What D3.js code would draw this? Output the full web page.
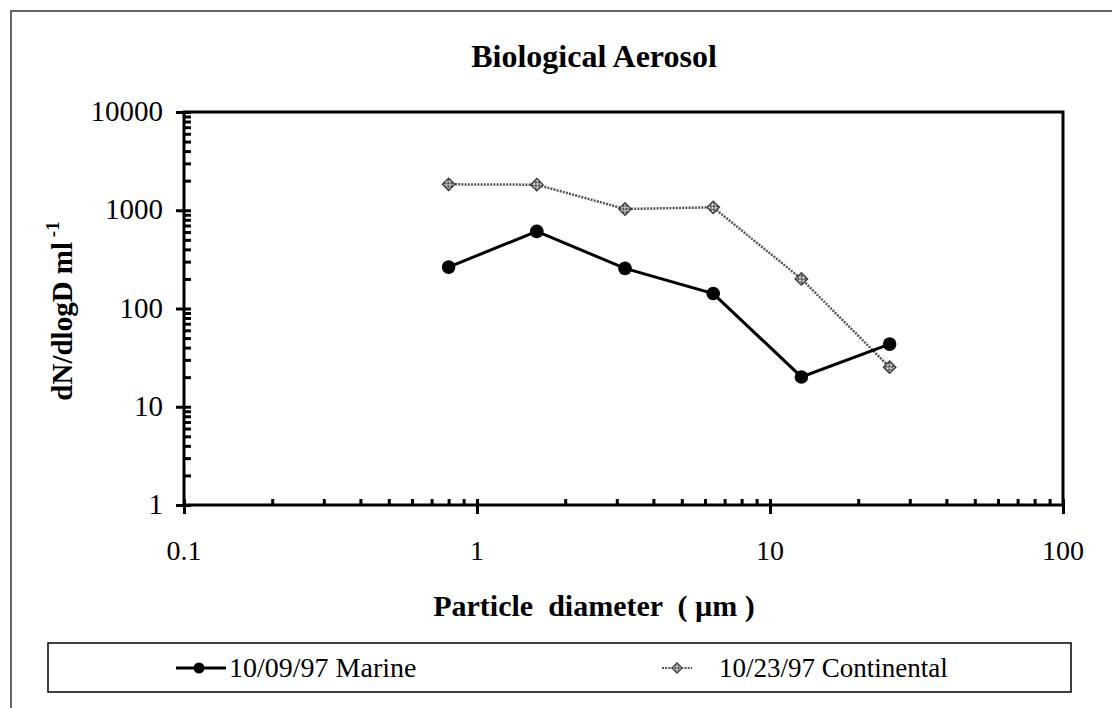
<!DOCTYPE html>
<html>
<head>
<meta charset="utf-8">
<script src="https://cdn.jsdelivr.net/npm/d3@7"></script>
<style>
  html, body { margin: 0; padding: 0; background: #fff; }
  svg { display: block; }
  text { font-family: "Liberation Serif", "Times New Roman", serif; fill: #000; }
</style>
</head>
<body>
<svg id="chart" width="1112" height="708"></svg>
<script>
// ---- data ----
const diameters = [0.8, 1.6, 3.2, 6.4, 12.8, 25.6];
const marine = [264, 610, 256, 142, 20.1, 43.4];
const continental = [1836, 1820, 1030, 1071, 200, 25.3];
const seriesNames = ["10/09/97 Marine", "10/23/97 Continental"];
const xTickLabels = ["0.1", "1", "10", "100"];
const yTickLabels = ["1", "10", "100", "1000", "10000"];
const titleText = "Biological Aerosol";
const xTitle = "Particle  diameter  ( \u00b5m )";
const yTitle = "dN/dlogD ml";

const svg = d3.select("#chart");
svg.append("rect").attr("width", 1112).attr("height", 708).attr("fill", "#fff");

// checker pattern for continental markers
const defs = svg.append("defs");
const pat = defs.append("pattern").attr("id", "checker").attr("width", 2).attr("height", 2)
  .attr("patternUnits", "userSpaceOnUse");
pat.append("rect").attr("width", 2).attr("height", 2).attr("fill", "#fff");
pat.append("rect").attr("width", 1).attr("height", 1).attr("fill", "#222");
pat.append("rect").attr("x", 1).attr("y", 1).attr("width", 1).attr("height", 1).attr("fill", "#222");

// outer frame (top + left only visible)
svg.append("path").attr("d", "M11,708 L11,11 L1112,11").attr("fill", "none")
  .attr("stroke", "#333").attr("stroke-width", 1.5);

const L = 184, R = 1063, T = 112, B = 505;
const x = d3.scaleLog().domain([0.1, 100]).range([L, R]);
const y = d3.scaleLog().domain([1, 10000]).range([B, T]);

const xMajor = xTickLabels.map(Number);
const yMajor = yTickLabels.map(Number);
const xMinor = [];
[0.1, 1, 10].forEach(d => { for (let k = 2; k <= 9; k++) xMinor.push(d * k); });
const yMinor = [];
[1, 10, 100, 1000].forEach(d => { for (let k = 2; k <= 9; k++) yMinor.push(d * k); });

function styleAxis(g) {
  g.selectAll("path.domain").remove();
  g.selectAll("line").attr("stroke", "#000").attr("stroke-width", 3);
  g.selectAll("text").remove();
}

// y axis ticks
svg.append("g").attr("transform", `translate(${L},0)`)
  .call(d3.axisLeft(y).tickValues(yMajor).tickSize(8).tickFormat("")).call(styleAxis);
svg.append("g").attr("transform", `translate(${L},0)`)
  .call(d3.axisRight(y).tickValues(yMajor.concat(yMinor)).tickSize(7).tickFormat("")).call(styleAxis);
// x axis ticks
svg.append("g").attr("transform", `translate(0,${B})`)
  .call(d3.axisBottom(x).tickValues(xMajor).tickSize(9).tickFormat("")).call(styleAxis);
svg.append("g").attr("transform", `translate(0,${B})`)
  .call(d3.axisTop(x).tickValues(xMajor.concat(xMinor)).tickSize(6).tickFormat("")).call(styleAxis);

// plot frame
svg.append("path").attr("d", `M${L},${B} L${L},${T} L${R},${T} L${R},${B} Z`)
  .attr("fill", "none").attr("stroke", "#000").attr("stroke-width", 3);

// tick labels
svg.append("g").selectAll("text").data(yMajor).join("text")
  .attr("x", 163).attr("y", d => y(d) + 9).attr("text-anchor", "end")
  .attr("font-size", 29).text((d, i) => yTickLabels[i]);
svg.append("g").selectAll("text").data(xMajor).join("text")
  .attr("x", d => x(d)).attr("y", 560).attr("text-anchor", "middle")
  .attr("font-size", 28).text((d, i) => xTickLabels[i]);

// titles
svg.append("text").attr("x", 594).attr("y", 67).attr("text-anchor", "middle")
  .attr("font-size", 32).attr("font-weight", "bold").text(titleText);
svg.append("text").attr("x", 594).attr("y", 616).attr("text-anchor", "middle")
  .attr("font-size", 30).attr("font-weight", "bold").style("white-space", "pre").text(xTitle);
const yl = svg.append("text").attr("transform", "translate(72,311) rotate(-90)")
  .attr("text-anchor", "middle").attr("font-size", 29).attr("font-weight", "bold");
yl.append("tspan").text(yTitle);
yl.append("tspan").attr("font-size", 19).attr("dy", -13).text(" -1");

// series
const ptsM = diameters.map((d, i) => [d, marine[i]]);
const ptsC = diameters.map((d, i) => [d, continental[i]]);
const line = d3.line().x(d => x(d[0])).y(d => y(d[1]));

svg.append("path").datum(ptsC).attr("d", line).attr("fill", "none")
  .attr("stroke", "#555").attr("stroke-width", 2.5).attr("stroke-dasharray", "2,1.2");
const diamond = d3.symbol().type(d3.symbolSquare).size(80);
svg.append("g").selectAll("path").data(ptsC).join("path")
  .attr("d", diamond).attr("transform", d => `translate(${x(d[0])},${y(d[1])}) rotate(45)`)
  .attr("fill", "url(#checker)").attr("stroke", "#333").attr("stroke-width", 1.2);

svg.append("path").datum(ptsM).attr("d", line).attr("fill", "none")
  .attr("stroke", "#000").attr("stroke-width", 3);
svg.append("g").selectAll("circle").data(ptsM).join("circle")
  .attr("cx", d => x(d[0])).attr("cy", d => y(d[1])).attr("r", 6.8).attr("fill", "#000");

// legend
svg.append("rect").attr("x", 48).attr("y", 643).attr("width", 1023).attr("height", 49)
  .attr("fill", "none").attr("stroke", "#000").attr("stroke-width", 1.5);
const ly = 668;
svg.append("line").attr("x1", 176).attr("x2", 226).attr("y1", ly).attr("y2", ly)
  .attr("stroke", "#000").attr("stroke-width", 3);
svg.append("circle").attr("cx", 199).attr("cy", ly).attr("r", 5.5).attr("fill", "#000");
svg.append("text").attr("x", 229).attr("y", ly + 9).attr("font-size", 28).text(seriesNames[0]);
svg.append("line").attr("x1", 662).attr("x2", 692).attr("y1", ly).attr("y2", ly)
  .attr("stroke", "#555").attr("stroke-width", 2).attr("stroke-dasharray", "2,1.2");
svg.append("path").attr("d", d3.symbol().type(d3.symbolSquare).size(55))
  .attr("transform", `translate(677,${ly}) rotate(45)`)
  .attr("fill", "url(#checker)").attr("stroke", "#333").attr("stroke-width", 1);
svg.append("text").attr("x", 719).attr("y", ly + 9).attr("font-size", 27).text(seriesNames[1]);
</script>
</body>
</html>
